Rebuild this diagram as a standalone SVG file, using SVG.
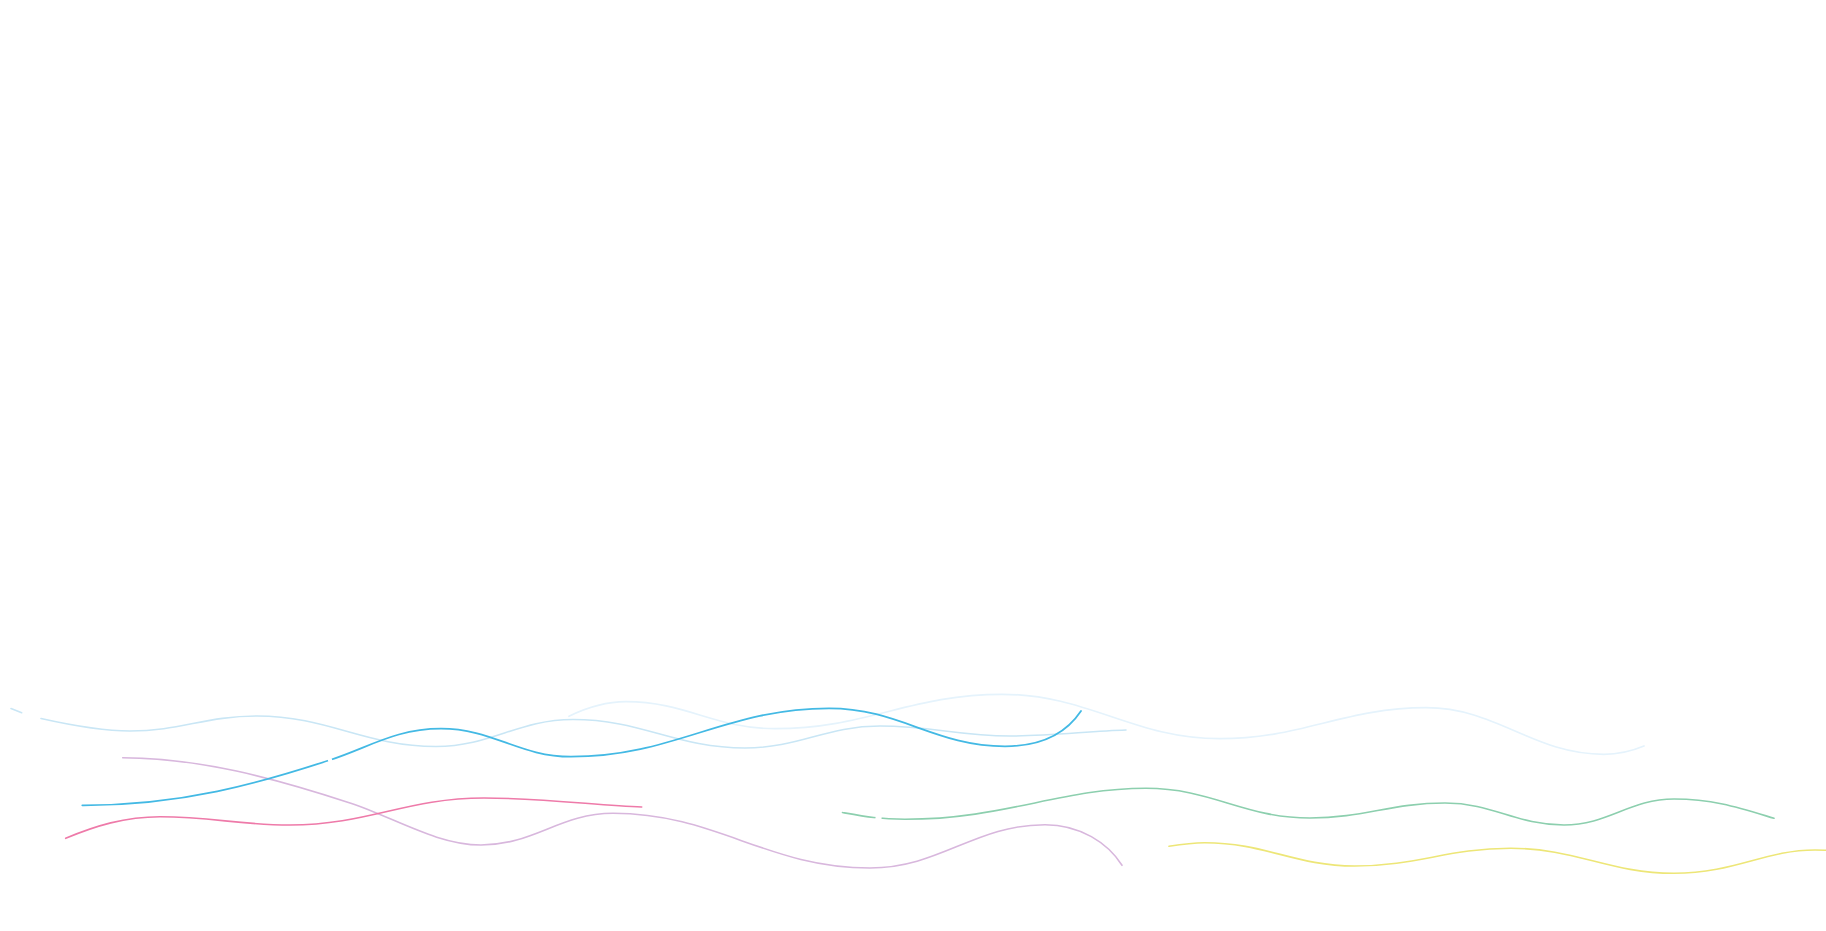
<svg xmlns="http://www.w3.org/2000/svg" width="1826" height="931" viewBox="0 0 1826 931">
<style>
.w{fill:none;stroke-linecap:round;stroke-linejoin:round}
.a{stroke:#c9e6f5;stroke-width:1.6}
.b{stroke:#e5f3fc;stroke-width:1.7}
.c{stroke:#43b9e4;stroke-width:1.8}
.d{stroke:#ee7aa9;stroke-width:1.6}
.e{stroke:#d8b7dd;stroke-width:1.6}
.f{stroke:#8ccfae;stroke-width:1.6}
.g{stroke:#ede677;stroke-width:1.6}
.gap{stroke:#ffffff;stroke-width:4;fill:none}
</style>
<rect x="0" y="0" width="1826" height="931" fill="#ffffff"/>
<g id="wave-lightblue">
<path class="w a" d="M11,708.5 L21.7,712.7"/>
<path class="w a" d="M41,718.5 C70,725 100,731 130,731 C180,731 206,716 257,716 C328,716 365,746.5 436,746.5 C491,746.5 518,719.5 573,719.5 C642,719.5 676,748 745,748 C799,748 826,726 880,726 C932,726 958,736 1010,736 C1050,736 1090,731 1126,730"/>
</g>
<g id="wave-palestblue">
<path class="w b" d="M569,716.3 C588,707 605,701.7 626,701.7 C686,701.7 715,728.7 775,728.7 C866,728.7 911,694.3 1002,694.3 C1089,694.3 1133,738.7 1220,738.7 C1302,738.7 1344,707.7 1426,707.7 C1497,707.7 1533,754.3 1604,754.3 C1620,754.3 1632,751 1644,746"/>
</g>
<g id="wave-lilac">
<path class="w e" d="M122.7,757.7 C199,758 274,778 350,803 C394,817.5 437,845 481,845 C534,845 560,813.3 613,813.3 C716,813.3 767,868 870,868 C940,868 975,824.7 1045,824.7 C1080,824.7 1108,843 1122,865.3"/>
</g>
<g id="wave-pink">
<path class="w d" d="M65.7,838.3 C95,826 125,816.7 160,816.7 C212,816.7 238,825 290,825 C368,825 406,798 484,798 C547,798 600,806 641.7,807"/>
</g>
<g id="wave-blue">
<path class="w c" d="M82.3,805.3 C182,805.5 260,783 330,760 C370,746.8 396,728.7 441,728.7 C493,728.7 519,756.7 571,756.7 C674,756.7 726,708.3 829,708.3 C899,708.3 935,746.3 1005,746.3 C1040,746.3 1065,735 1081,711"/>
<line class="gap" x1="328" y1="760.7" x2="332" y2="759.3"/>
</g>
<g id="wave-green">
<path class="w f" d="M842.5,812.5 C865,816.5 880,819.3 905,819.3 C1005,819.3 1060,788.3 1146,788.3 C1212,788.3 1244,818 1310,818 C1364,818 1391,803 1445,803 C1493,803 1516,825 1564,825 C1608,825 1630,799 1674,799 C1714,799 1740,808 1774,818.3"/>
<line class="gap" x1="875.5" y1="817.8" x2="881.5" y2="818.6"/>
</g>
<g id="wave-yellow">
<path class="w g" d="M1169,846.3 C1183,844 1192,842.7 1204.7,842.7 C1265,842.7 1295,866 1354.7,866 C1417,866 1448,848.3 1510.7,848.3 C1576,848.3 1609,873.3 1674,873.3 C1735,873.3 1765,850 1815,850 C1820,850 1825,850.2 1830,850.3"/>
</g>
</svg>
